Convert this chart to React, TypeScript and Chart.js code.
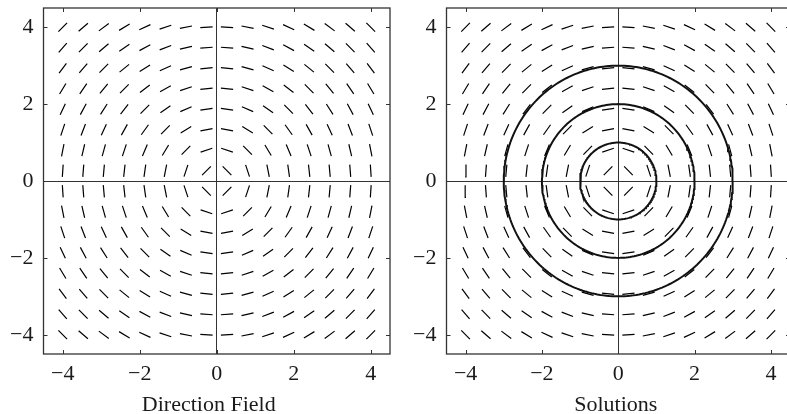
import React, { useEffect, useRef } from "react";
import { Chart, registerables } from "chart.js";

Chart.register(...registerables);

// Direction field of dy/dx = -x / y, sampled on a 16 x 16 grid
const GRID = [
  -4, -3.467, -2.933, -2.4, -1.867, -1.333, -0.8, -0.267,
  0.267, 0.8, 1.333, 1.867, 2.4, 2.933, 3.467, 4,
];
// Solution curves x^2 + y^2 = r^2
const RADII = [1, 2, 3];
const AXIS_TICKS = [-4, -2, 0, 2, 4];
const AXIS_MIN = -4.5;
const AXIS_MAX = 4.5;
const SEGMENT_LENGTH = 0.32;
const CAPTIONS = ["Direction Field", "Solutions"];

const FONT_FAMILY = "'Liberation Serif', 'Times New Roman', serif";
const TEXT_COLOR = "#1a1a1a";

function slope(x: number, y: number): { dx: number; dy: number } {
  // dy/dx = -x/y  -> direction vector (y, -x)
  const n = Math.hypot(x, y);
  return { dx: y / n, dy: -x / n };
}

function fieldData() {
  const pts: { x: number; y: number | null }[] = [];
  const h = SEGMENT_LENGTH / 2;
  for (const x of GRID) {
    for (const y of GRID) {
      const { dx, dy } = slope(x, y);
      pts.push({ x: x - dx * h, y: y - dy * h });
      pts.push({ x: x + dx * h, y: y + dy * h });
      pts.push({ x: x, y: null });
    }
  }
  return pts;
}

function circleData(r: number) {
  const pts: { x: number; y: number }[] = [];
  const n = 240;
  for (let i = 0; i <= n; i++) {
    const t = (i / n) * Math.PI * 2;
    pts.push({ x: r * Math.cos(t), y: r * Math.sin(t) });
  }
  return pts;
}

const fmt = (v: number | string) => {
  const n = Number(v);
  return n < 0 ? "\u2212" + Math.abs(n) : String(n);
};

const framePlugin = {
  id: "frame",
  afterDatasetsDraw(chart: any, _args: any, opts: any) {
    const { ctx, chartArea: a, scales } = chart;
    ctx.save();
    ctx.strokeStyle = "#333";
    ctx.lineWidth = 1.3;
    ctx.strokeRect(a.left, a.top, a.right - a.left, a.bottom - a.top);
    ctx.lineWidth = 1;
    ctx.beginPath();
    const tl = 4;
    for (const v of AXIS_TICKS) {
      const px = Math.round(scales.x.getPixelForValue(v)) + 0.5;
      ctx.moveTo(px, a.bottom);
      ctx.lineTo(px, a.bottom - tl);
      ctx.moveTo(px, a.top);
      ctx.lineTo(px, a.top + tl);
      const py = Math.round(scales.y.getPixelForValue(v)) + 0.5;
      ctx.moveTo(a.left, py);
      ctx.lineTo(a.left + tl, py);
      ctx.moveTo(a.right, py);
      ctx.lineTo(a.right - tl, py);
    }
    ctx.stroke();
    if (opts && opts.caption) {
      ctx.fillStyle = TEXT_COLOR;
      ctx.font = `22px ${FONT_FAMILY}`;
      ctx.textAlign = "center";
      ctx.textBaseline = "alphabetic";
      const cx = scales.x.getPixelForValue(0) + (opts.shift || 0);
      ctx.fillText(opts.caption, cx, opts.baseline);
    }
    ctx.restore();
  },
};

function Panel(props: {
  left: number;
  width: number;
  yAxisWidth: number;
  padRight: number;
  caption: string;
  captionShift: number;
  showSolutions: boolean;
}) {
  const ref = useRef<HTMLCanvasElement | null>(null);
  useEffect(() => {
    if (!ref.current) return;
    const datasets: any[] = [
      {
        data: fieldData(),
        showLine: true,
        spanGaps: false,
        borderColor: "#000",
        borderWidth: 1.2,
        pointRadius: 0,
        tension: 0,
      },
    ];
    if (props.showSolutions) {
      for (const r of RADII) {
        datasets.push({
          data: circleData(r),
          showLine: true,
          borderColor: "#111",
          borderWidth: 2,
          pointRadius: 0,
          tension: 0,
        });
      }
    }
    const tickFont = { family: FONT_FAMILY, size: 22 };
    const gridColor = (c: any) =>
      c.tick && c.tick.value === 0 ? "#333" : "rgba(0,0,0,0)";
    const chart = new Chart(ref.current, {
      type: "scatter",
      data: { datasets },
      options: {
        animation: false,
        responsive: false,
        events: [],
        layout: { padding: { top: 8, right: props.padRight, left: 0, bottom: 0 } },
        plugins: {
          legend: { display: false },
          tooltip: { enabled: false },
          frame: {
            caption: props.caption,
            shift: props.captionShift,
            baseline: 411,
          },
        } as any,
        scales: {
          x: {
            type: "linear",
            min: AXIS_MIN,
            max: AXIS_MAX,
            afterBuildTicks: (s: any) => {
              s.ticks = AXIS_TICKS.map((v) => ({ value: v }));
            },
            afterFit: (s: any) => {
              s.height = 60;
              s.paddingLeft = 0;
              s.paddingRight = 0;
            },
            grid: { color: gridColor, lineWidth: 1, drawTicks: false },
            border: { display: false },
            ticks: {
              font: tickFont,
              color: TEXT_COLOR,
              padding: 7,
              maxRotation: 0,
              autoSkip: false,
              callback: (v: any) => fmt(v),
            },
          },
          y: {
            type: "linear",
            min: AXIS_MIN,
            max: AXIS_MAX,
            afterBuildTicks: (s: any) => {
              s.ticks = AXIS_TICKS.map((v) => ({ value: v }));
            },
            afterFit: (s: any) => {
              s.width = props.yAxisWidth;
              s.paddingTop = 0;
              s.paddingBottom = 0;
            },
            grid: { color: gridColor, lineWidth: 1, drawTicks: false },
            border: { display: false },
            ticks: {
              font: tickFont,
              color: TEXT_COLOR,
              padding: 10,
              autoSkip: false,
              callback: (v: any) => fmt(v),
            },
          },
        },
      },
      plugins: [framePlugin],
    } as any);
    return () => chart.destroy();
  }, []);
  return (
    <canvas
      ref={ref}
      width={props.width}
      height={414}
      style={{
        position: "absolute",
        left: props.left,
        top: 0,
        width: props.width,
        height: 414,
      }}
    />
  );
}

export default function App() {
  return (
    <div
      style={{
        position: "fixed",
        left: 0,
        top: 0,
        width: 787,
        height: 414,
        overflow: "hidden",
        background: "#fff",
      }}
    >
      <Panel
        left={0}
        width={400}
        yAxisWidth={43.5}
        padRight={10}
        caption={CAPTIONS[0]}
        captionShift={-8}
        showSolutions={false}
      />
      <Panel
        left={400}
        width={400}
        yAxisWidth={46.5}
        padRight={10}
        caption={CAPTIONS[1]}
        captionShift={-2.5}
        showSolutions={true}
      />
    </div>
  );
}
